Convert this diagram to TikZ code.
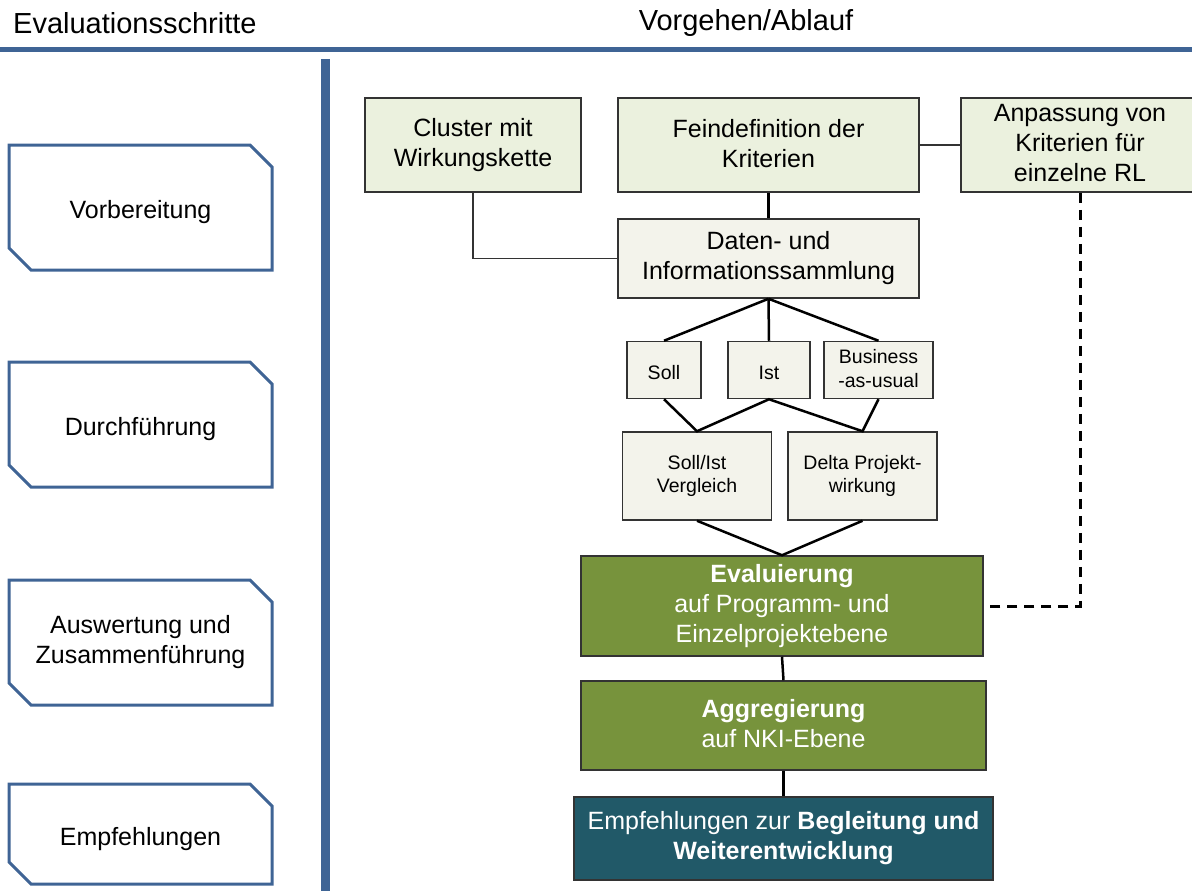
\documentclass[tikz,border=0pt]{standalone}
\usepackage{fontspec}
\setmainfont{Liberation Sans}
\usetikzlibrary{shapes.misc}
\definecolor{phaseblue}{HTML}{3F6495}
\definecolor{critfill}{HTML}{EBF1DE}
\definecolor{datafill}{HTML}{F3F3EB}
\definecolor{evalgreen}{HTML}{77933C}
\definecolor{recteal}{HTML}{215968}
\newcommand\linestrut{\vrule width 0pt height 1.1em depth .16em}
\begin{document}
\begin{tikzpicture}[x=1pt,y=-1pt,
    boxtext/.style={align=center,execute at begin node=\linestrut,execute at end node=\linestrut},
    phase/.style={boxtext,draw=phaseblue,line width=3pt,fill=white,chamfered rectangle,
        chamfered rectangle corners={north east,south west},chamfered rectangle sep=11pt,
        minimum width=263pt,minimum height=125pt,inner sep=0pt,
        font=\fontsize{25}{30}\selectfont},
    stepbox/.style={boxtext,draw=black!80,line width=1.5pt,inner sep=0pt,
        font=\fontsize{25}{30}\selectfont},
    smallbox/.style={stepbox,fill=datafill,minimum height=57pt,font=\fontsize{19.5}{23.5}\selectfont},
    link/.style={line width=2.5pt},
    thinlink/.style={line width=1.5pt,black!80}]
    \useasboundingbox (0,0) rectangle (1192,891);
    % headers and separators
    \node[anchor=west,inner sep=0pt,font=\fontsize{29}{34}\selectfont] (steps) at (13,23) {Evaluationsschritte};
    \node[inner sep=0pt,font=\fontsize{29}{34}\selectfont] (procedure) at (746,23) {Vorgehen/Ablauf};
    \draw[phaseblue,line width=5pt] (0,49.5) -- (1192,49.5);
    \draw[phaseblue,line width=9pt] (325,59) -- (325,891);
    % evaluation steps
    \node[phase] (prep) at (140.5,207.5) {Vorbereitung};
    \node[phase] (exec) at (140.5,424.5) {Durchführung};
    \node[phase] (merge) at (140.5,642.5) {Auswertung und\\Zusammenführung};
    \node[phase,minimum height=100pt] (recs) at (140.5,834) {Empfehlungen};
    % procedure
    \node[stepbox,fill=critfill,minimum width=216pt,minimum height=94pt] (cluster) at (473,145) {Cluster mit\\Wirkungskette};
    \node[stepbox,fill=critfill,minimum width=301pt,minimum height=94pt] (crit) at (768.5,145) {Feindefinition der\\Kriterien};
    \node[stepbox,fill=critfill,minimum width=238pt,minimum height=94pt] (adapt) at (1080,145) {Anpassung von\\Kriterien für\\einzelne RL};
    \node[stepbox,fill=datafill,minimum width=301pt,minimum height=79pt] (data) at (768.5,258.5) {Daten- und\\Informationssammlung};
    \node[smallbox,minimum width=74pt] (soll) at (664,370) {Soll};
    \node[smallbox,minimum width=82pt] (ist) at (769,370) {Ist};
    \node[smallbox,minimum width=109pt] (bau) at (878.5,370) {Business\\-as-usual};
    \node[smallbox,minimum width=149pt,minimum height=88pt] (cmp) at (697,476) {Soll/Ist\\Vergleich};
    \node[smallbox,minimum width=149pt,minimum height=88pt] (delta) at (862.5,476) {Delta Projekt-\\wirkung};
    \node[stepbox,fill=evalgreen,text=white,minimum width=402pt,minimum height=100pt] (eval) at (782,606)
        {\textbf{Evaluierung}\\auf Programm- und\\Einzelprojektebene};
    \node[stepbox,fill=evalgreen,text=white,minimum width=405pt,minimum height=89pt] (aggr) at (783.5,725.5)
        {\textbf{Aggregierung}\\auf NKI-Ebene};
    \node[stepbox,fill=recteal,text=white,minimum width=419pt,minimum height=83pt] (rec) at (783.5,838.5)
        {Empfehlungen zur \textbf{Begleitung und}\\\textbf{Weiterentwicklung}};
    % connectors
    \draw[thinlink] (cluster.south) |- (data.west);
    \draw[thinlink] (crit.east) -- (adapt.west);
    \draw[link] (crit.south) -- (data.north);
    \foreach \n in {soll,ist,bau}
        \draw[link] (data.south) -- (\n.north);
    \draw[link] (soll.south) -- (cmp.north) -- (ist.south) -- (delta.north) -- (bau.south);
    \draw[link] (cmp.south) -- (eval.north) -- (delta.south);
    \draw[link] (eval.south) -- (aggr.north);
    \draw[link] (aggr.south) -- (rec.north);
    \draw[line width=3pt,dash pattern=on 10pt off 7pt] (adapt.south) |- (eval.east);
\end{tikzpicture}
\end{document}
